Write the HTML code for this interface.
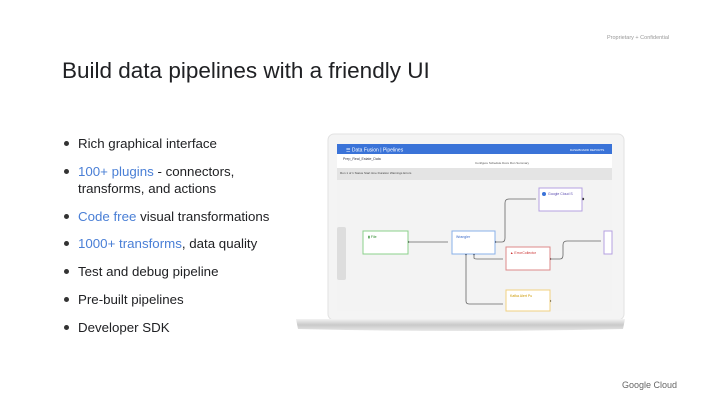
<!DOCTYPE html>
<html><head><style>
body{margin:0;width:707px;height:400px;background:#fff;overflow:hidden;position:relative;font-family:"Liberation Sans",sans-serif;color:#202124}
.t{position:absolute;left:62px;top:58px;font-size:22.5px;color:#202124}
ul{position:absolute;left:62px;top:135px;margin:0;padding:0;list-style:none;font-size:13.3px;line-height:17px}
li{position:relative;padding-left:16px;margin-bottom:10.8px}
li:before{content:"";position:absolute;left:2px;top:6px;width:5px;height:5px;border-radius:50%;background:#333}
.b{color:#4a7fd6}
</style></head><body>
<div style="position:absolute;left:607px;top:35px;font-size:5.5px;color:#999">Proprietary + Confidential</div>
<div class="t">Build data pipelines with a friendly UI</div>
<ul>
<li>Rich graphical interface</li>
<li><span class="b">100+ plugins</span> - connectors,<br>transforms, and actions</li>
<li><span class="b">Code free</span> visual transformations</li>
<li><span class="b">1000+ transforms</span>, data quality</li>
<li>Test and debug pipeline</li>
<li>Pre-built pipelines</li>
<li>Developer SDK</li>
</ul>
<div style="position:absolute;left:622px;top:380px;font-size:9px;color:#666">Google Cloud</div>
<svg width="707" height="400" style="position:absolute;left:0;top:0" font-family="Liberation Sans">
<defs><linearGradient id="g" x1="0" y1="0" x2="0" y2="1"><stop offset="0" stop-color="#f2f2f2"/><stop offset="0.5" stop-color="#c9c9c9"/><stop offset="1" stop-color="#e8e8e8"/></linearGradient></defs>
<rect x="328" y="134" width="296" height="186" rx="6" fill="#f4f4f4" stroke="#e2e2e2"/>
<rect x="337" y="144" width="275" height="167" fill="#f3f3f3"/>
<rect x="337" y="144" width="275" height="10" fill="#3a73d8"/>
<text x="346" y="151.5" font-size="5" fill="#fff">☰ Data Fusion | Pipelines</text>
<text x="570" y="151" font-size="3" fill="#fff">DASHBOARD   REPORTS</text>
<rect x="337" y="154" width="275" height="14" fill="#fff"/>
<text x="343" y="160" font-size="3.5" fill="#334">Prep_Real_Estate_Data</text>
<text x="475" y="164" font-size="3" fill="#555">Configure   Schedule   Docs   Run   Summary</text>
<rect x="337" y="168" width="275" height="12" fill="#e4e4e4"/>
<text x="340" y="174" font-size="3" fill="#444">Run 1 of 1       Status      Start time       Duration    Warnings   Errors</text>
<rect x="337" y="227" width="9" height="53" rx="2" fill="#ddd"/>
<g fill="none" stroke="#666" stroke-width="0.8">
<path d="M408 242H448"/><path d="M495 242H502Q505 242 505 238V203Q505 199 509 199H536"/>
<path d="M466 254V301Q466 304 469 304H503"/><path d="M474 254V258Q474 259 477 259H503"/>
<path d="M550 259H560Q563 259 563 255V245Q563 241 567 241H601"/>
</g>
<g fill="#333"><circle cx="408" cy="242" r="1.2"/><circle cx="495" cy="242" r="1.2"/><circle cx="466" cy="254" r="1.2"/><circle cx="474" cy="254" r="1.2"/><circle cx="550" cy="259" r="1.2"/><circle cx="583" cy="199" r="1.2"/><circle cx="550" cy="301" r="1.2"/></g>
<rect x="363" y="231" width="45" height="23" fill="#fff" stroke="#8bd18b"/>
<text x="368" y="238" font-size="3.5" fill="#2a8a2a">▮ File</text>
<rect x="452" y="231" width="43" height="23" fill="#fff" stroke="#8ab0e8"/>
<text x="456" y="238" font-size="3.5" fill="#3a6ac8">Wrangler</text>
<rect x="539" y="188" width="43" height="23" fill="#fff" stroke="#b4a0e0"/>
<circle cx="544" cy="194" r="2" fill="#3a73d8"/><text x="548" y="195" font-size="3.5" fill="#5a4ab0">Google Cloud S</text>
<rect x="506" y="247" width="44" height="23" fill="#fff" stroke="#d88"/>
<text x="510" y="254" font-size="3.5" fill="#c33">▲ ErrorCollector</text>
<rect x="506" y="290" width="44" height="21" fill="#fff" stroke="#f0d080"/>
<text x="510" y="297" font-size="3.5" fill="#c90">Kafka Alert Pu</text>
<rect x="604" y="231" width="8" height="23" fill="#fff" stroke="#b4a0e0"/>
<path d="M296 319H625L623 329Q460 333 298 329Z" fill="url(#g)"/>
</svg>
</body></html>
